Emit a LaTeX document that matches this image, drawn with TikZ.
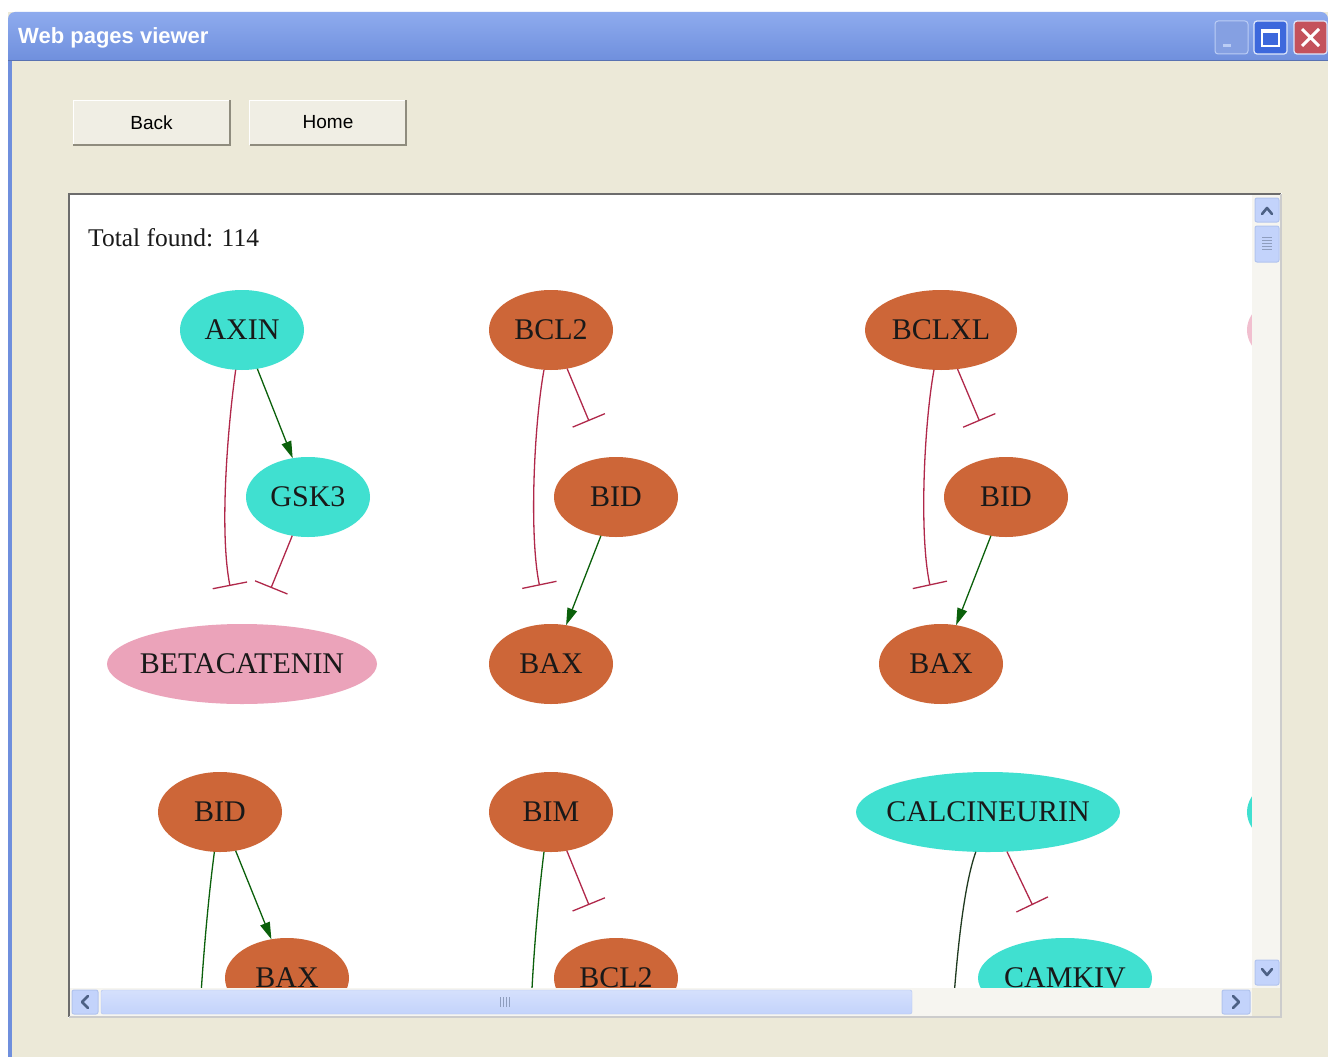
\documentclass[tikz,border=0pt]{standalone}
\usepackage{fontspec}
\setmainfont{Liberation Serif}
\newfontfamily\uisans{Liberation Sans}
\usetikzlibrary{arrows.meta,shapes.geometric}
\definecolor{turq}{HTML}{40E0D0}
\definecolor{choc}{HTML}{CD6638}
\definecolor{pinkn}{HTML}{EBA3BA}
\definecolor{winbg}{HTML}{ECE9D8}
\definecolor{titleA}{HTML}{8EABEE}
\definecolor{titleB}{HTML}{6F8FDD}
\definecolor{maxblue}{HTML}{3D68DC}
\definecolor{closered}{HTML}{C4525C}
\definecolor{inhred}{HTML}{B0284A}
\definecolor{actgreen}{HTML}{0B600B}
\definecolor{darkline}{HTML}{203A20}
\definecolor{sbblue}{HTML}{C3D3FB}
\definecolor{sbedge}{HTML}{B2C4EE}
\definecolor{sbdark}{HTML}{4D6185}
\definecolor{sbtrack}{HTML}{F6F5F0}
\definecolor{btnface}{HTML}{F0EEE4}
\definecolor{btnshadow}{HTML}{8F8C7E}
\begin{document}
\begin{tikzpicture}[x=1pt,y=-1pt,
  gnode/.style={ellipse,inner sep=0pt,outer sep=0pt,minimum height=80pt,
    font=\fontsize{30}{30}\selectfont,text=black!90},
  tq/.style={gnode,fill=turq},
  ch/.style={gnode,fill=choc},
  pk/.style={gnode,fill=pinkn},
  inh/.style={draw=inhred,line width=1.3pt,-{Bar[width=35pt,line width=1.3pt]}},
  act/.style={draw=actgreen,line width=1.3pt,-{Triangle[length=17pt,width=10pt]}},
  actline/.style={draw=actgreen,line width=1.3pt},
  btn/.style={rectangle,fill=btnface,minimum width=156pt,minimum height=44pt,inner sep=0pt,
    font=\uisans\fontsize{19}{19}\selectfont,text=black},
  sbbtn/.style={fill=sbblue,draw=sbedge,line width=1pt,rounded corners=2pt},
  chev/.style={draw=sbdark,line width=2.6pt,line cap=round,line join=round}
]
\useasboundingbox (0,0) rectangle (1328,1057);
% page and window
\fill[white] (0,0) rectangle (1328,1057);
\fill[winbg] (8,12) rectangle (1328,1057);
\fill[titleB] (8,40) rectangle (12,1057);
\shade[top color=titleA,bottom color=titleB] (8,61) [rounded corners=7pt]-- (8,12) -- (1328,12) [sharp corners]-- (1328,61) -- cycle;
\draw[draw=titleB!80!black,line width=1pt] (8,61) -- (1328,61);
\node[anchor=west,inner sep=0pt,font=\uisans\bfseries\fontsize{22}{22}\selectfont,text=white] (title) at (18,38) {Web pages viewer};
% title buttons
\draw[fill=titleB!85!white,draw=titleA!60!white,line width=1pt,rounded corners=3pt] (1215,21) rectangle (1248,54);
\fill[titleA!60!white] (1223,44) rectangle (1231,47);
\draw[fill=maxblue,draw=white!70!titleA,line width=1.2pt,rounded corners=3pt] (1254,21) rectangle (1287,54);
\draw[white,line width=1.5pt] (1262,30) rectangle (1279,46);
\fill[white] (1262,30) rectangle (1279,33);
\draw[fill=closered,draw=white!70!titleA,line width=1.2pt,rounded corners=3pt] (1294,21) rectangle (1327,54);
\draw[white,line width=3pt] (1302,29) -- (1319,46) (1319,29) -- (1302,46);
% buttons
\node[btn] (back) at (151.5,122.5) {Back};
\node[btn] (home) at (328,122.5) {Home};
\foreach \b in {back,home}{
  \draw[white,line width=1pt] (\b.south west) -- (\b.north west) -- (\b.north east);
  \draw[btnshadow,line width=2pt] (\b.north east) -- (\b.south east) -- (\b.south west);
}
% content panel
\fill[white] (68,193) rectangle (1282,1018);
\draw[draw=gray!85!black,line width=2pt] (69,1017) -- (69,194) -- (1281,194);
\draw[draw=gray!40,line width=1.5pt] (1281,194) -- (1281,1017) -- (69,1017);
\node[anchor=base west,inner sep=0pt,font=\fontsize{25.5}{25.5}\selectfont,text=black!90] (total) at (88,246) {Total found: 114};
% graph content
\begin{scope}
\clip (70,195) rectangle (1252,988);
% column 1
\node[tq,minimum width=124pt] (axin) at (242,330) {\makebox[0pt]{AXIN}};
\node[tq,minimum width=124pt] (gsk3) at (308,497) {\makebox[0pt]{GSK3}};
\node[pk,minimum width=270pt] (beta) at (242,664) {\makebox[0pt]{BETACATENIN}};
\coordinate (t1) at (230,586);
\coordinate (t2) at (271,588);
\draw[act] (axin) -- (gsk3);
\draw[inh] (axin.-99) .. controls (228,425) and (219,530) .. (t1);
\draw[inh] (gsk3) -- (t2);
% column 2
\node[ch,minimum width=124pt] (bcl2) at (551,330) {\makebox[0pt]{BCL2}};
\node[ch,minimum width=124pt] (bid1) at (616,497) {\makebox[0pt]{BID}};
\node[ch,minimum width=124pt] (bax1) at (551,664) {\makebox[0pt]{BAX}};
\coordinate (t3) at (589,421);
\coordinate (t4) at (539.5,585.5);
\draw[inh] (bcl2) -- (t3);
\draw[inh] (bcl2.-100) .. controls (534,425) and (529,535) .. (t4);
\draw[act] (bid1) -- (bax1);
% column 3
\node[ch,minimum width=152pt] (bclxl) at (941,330) {\makebox[0pt]{BCLXL}};
\node[ch,minimum width=124pt] (bid2) at (1006,497) {\makebox[0pt]{BID}};
\node[ch,minimum width=124pt] (bax2) at (941,664) {\makebox[0pt]{BAX}};
\coordinate (t5) at (979.5,421);
\coordinate (t6) at (930,585.5);
\draw[inh] (bclxl) -- (t5);
\draw[inh] (bclxl.-100) .. controls (924,425) and (919,535) .. (t6);
\draw[act] (bid2) -- (bax2);
% row 2
\node[ch,minimum width=124pt] (bid3) at (220,812) {\makebox[0pt]{BID}};
\node[ch,minimum width=124pt] (bax3) at (287,978) {\makebox[0pt]{BAX}};
\coordinate (o1) at (200,1010);
\draw[actline] (bid3.-98) .. controls (208,900) and (203,960) .. (o1);
\draw[act] (bid3) -- (bax3);
\node[ch,minimum width=124pt] (bim) at (551,812) {\makebox[0pt]{BIM}};
\node[ch,minimum width=124pt] (bcl2b) at (616,978) {\makebox[0pt]{BCL2}};
\coordinate (o2) at (531,1010);
\coordinate (t7) at (589,905);
\draw[actline] (bim.-100) .. controls (538,900) and (533,960) .. (o2);
\draw[inh] (bim) -- (t7);
\node[tq,minimum width=264pt] (calc) at (988,812) {\makebox[0pt]{CALCINEURIN}};
\node[tq,minimum width=174pt] (camk) at (1065,978) {\makebox[0pt]{CAMKIV}};
\coordinate (o3) at (953,1010);
\coordinate (t8) at (1032.5,905);
\draw[draw=darkline,line width=1.3pt] (calc.-107) .. controls (965,882) and (958,940) .. (o3);
\draw[inh] (calc) -- (t8);
% slivers of next column
\node[gnode,fill=pinkn!70!white,minimum width=124pt] (nextA) at (1309,330) {};
\node[tq,minimum width=124pt] (nextB) at (1309,812) {};
\end{scope}
% vertical scrollbar
\fill[sbtrack] (1252,195) rectangle (1280,988);
\draw[sbbtn] (1255,198) rectangle (1279,222);
\draw[chev] (1262,214) -- (1267,208) -- (1272,214);
\draw[sbbtn] (1255,226) rectangle (1279,262);
\foreach \yy in {237,240,243,246,249} \draw[sbedge!80!black,line width=0.8pt] (1262,\yy) -- (1272,\yy);
\draw[sbbtn] (1255,960) rectangle (1279,985);
\draw[chev] (1262,969) -- (1267,975) -- (1272,969);
% horizontal scrollbar
\fill[sbtrack] (70,988) rectangle (1252,1016);
\draw[sbbtn] (72,990) rectangle (98,1014);
\draw[chev] (88,996) -- (82,1002) -- (88,1008);
\shade[top color=sbblue!70!white,bottom color=sbblue,draw=sbedge,rounded corners=2pt] (101,990) rectangle (912,1014);
\foreach \xx in {500,503,506,509} \draw[sbedge!80!black,line width=0.8pt] (\xx,997) -- (\xx,1007);
\draw[sbbtn] (1222,990) rectangle (1250,1014);
\draw[chev] (1233,996) -- (1239,1002) -- (1233,1008);
\fill[winbg] (1252,988) rectangle (1280,1016);
\end{tikzpicture}
\end{document}
